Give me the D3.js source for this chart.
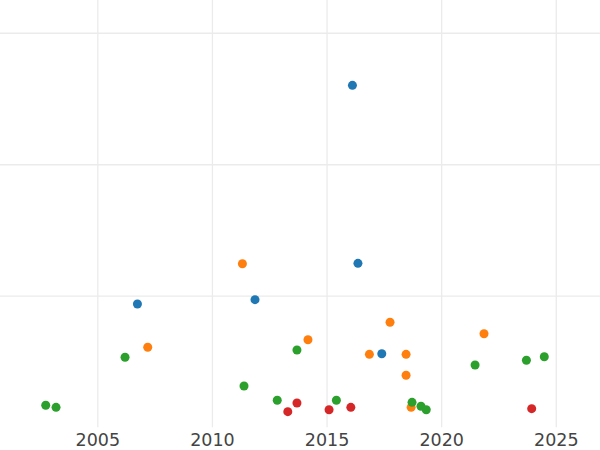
<!DOCTYPE html>
<html>
<head>
<meta charset="utf-8">
<script src="https://cdn.jsdelivr.net/npm/d3@7"></script>
<style>
html, body { margin: 0; padding: 0; background: #fff; }
svg { display: block; }
</style>
</head>
<body>
<svg id="chart" width="600" height="450"></svg>
<script>
// ---- data ----
const seriesNames = ["A", "B", "C", "D"];
const seriesColors = ["#1f77b4", "#ff7f0e", "#2ca02c", "#d62728"];
const blueYears = [2006.75, 2011.88, 2016.13, 2016.37, 2017.41];
const blueValues = [0.937, 0.970, 2.600, 1.246, 0.559];
const orangeYears = [2007.20, 2011.33, 2014.19, 2016.87, 2017.77, 2018.47, 2018.47, 2018.69, 2021.87];
const orangeValues = [0.608, 1.243, 0.665, 0.554, 0.798, 0.554, 0.395, 0.151, 0.711];
const greenYears = [2002.75, 2003.20, 2006.21, 2011.40, 2012.85, 2013.71, 2015.43, 2018.73, 2019.12, 2019.35, 2021.48, 2023.72, 2024.50];
const greenValues = [0.167, 0.151, 0.532, 0.313, 0.205, 0.587, 0.205, 0.189, 0.159, 0.133, 0.473, 0.509, 0.536];
const redYears = [2013.31, 2013.71, 2015.11, 2016.06, 2023.95];
const redValues = [0.118, 0.184, 0.133, 0.151, 0.141];
const xTicks = [2005, 2010, 2015, 2020, 2025];
const yGrid = [1, 2, 3];

const series = [
  {years: blueYears, values: blueValues},
  {years: orangeYears, values: orangeValues},
  {years: greenYears, values: greenValues},
  {years: redYears, values: redValues}
];

// ---- layout ----
const W = 600, H = 450;
const plotBottom = 427.2;
const svg = d3.select("#chart");

const x = d3.scaleLinear().domain([2000.755, 2026.93]).range([0, W]);
const y = d3.scaleLinear().domain([0, 3.249]).range([plotBottom, 0]);

// horizontal gridlines
const gy = svg.append("g")
  .call(d3.axisLeft(y).tickValues(yGrid).tickSize(-W).tickFormat(""));
gy.select(".domain").remove();
gy.selectAll(".tick line").attr("stroke", "#ebebeb").attr("stroke-width", 1.3);

// vertical gridlines + tick labels
const gx = svg.append("g").attr("transform", `translate(0,${plotBottom})`)
  .call(d3.axisBottom(x).tickValues(xTicks).tickSize(-plotBottom).tickPadding(6).tickFormat(d3.format("d")));
gx.select(".domain").remove();
gx.selectAll(".tick line").attr("stroke", "#ebebeb").attr("stroke-width", 1.3);
gx.selectAll(".tick text")
  .attr("fill", "#444")
  .style("font-family", "DejaVu Sans, sans-serif")
  .style("font-size", "17.5px");

// points
series.forEach((s, i) => {
  svg.append("g").selectAll("circle")
    .data(s.years.map((yr, j) => ({yr, v: s.values[j]})))
    .join("circle")
    .attr("cx", d => x(d.yr))
    .attr("cy", d => y(d.v))
    .attr("r", 4.5)
    .attr("fill", seriesColors[i]);
});
</script>
</body>
</html>
